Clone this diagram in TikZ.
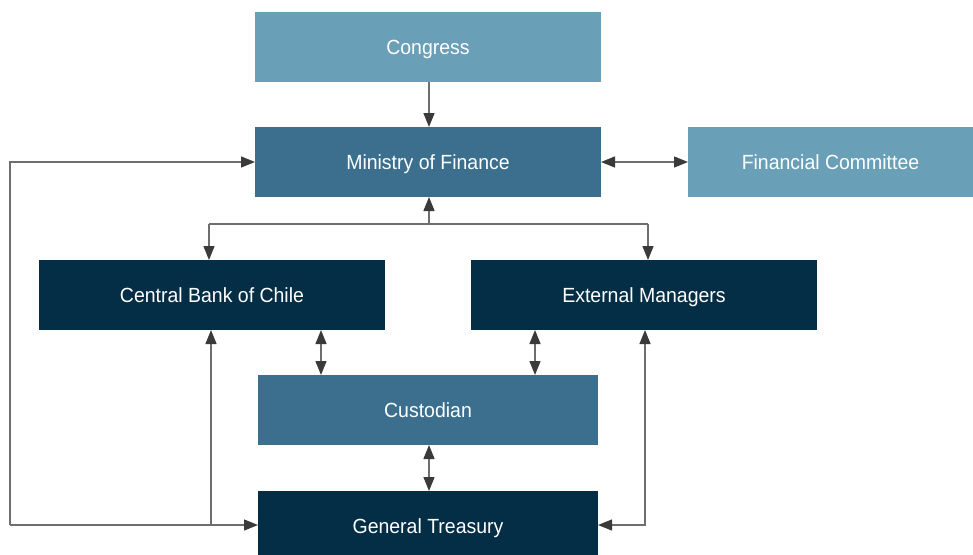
\documentclass[tikz,border=0pt]{standalone}
\usepackage{fontspec}
\setmainfont{Liberation Sans}[FakeStretch=0.95]
\usetikzlibrary{arrows.meta}
\definecolor{boxlight}{HTML}{6A9FB8}
\definecolor{boxmid}{HTML}{3B6F8D}
\definecolor{boxdark}{HTML}{042D46}
\definecolor{linegray}{HTML}{6E6E6E}
\definecolor{tipgray}{HTML}{3A3A3A}
\begin{document}
\begin{tikzpicture}[x=1pt,y=-1pt,
  orgbox/.style={rectangle, inner sep=0pt, outer sep=0pt, text=white,
    text height=14pt, text depth=0pt,
    font=\fontsize{20.5}{24}\selectfont},
  light/.style={orgbox, fill=boxlight},
  mid/.style={orgbox, fill=boxmid},
  dark/.style={orgbox, fill=boxdark},
  tip/.tip={Triangle[length=14pt,width=11pt,color=tipgray]},
  link/.style={draw=linegray, line width=1.3pt, -tip},
  plain/.style={draw=linegray, line width=1.3pt},
  dbl/.style={draw=linegray, line width=1.3pt, tip-tip}
]
\useasboundingbox (0,0) rectangle (973,554);

% boxes
\node[light, minimum width=346pt, minimum height=70pt] (congress) at (428,47) {Congress};
\node[mid, minimum width=346pt, minimum height=70pt] (ministry) at (428,162) {Ministry of Finance};
\node[light, minimum width=285pt, minimum height=70pt] (committee) at (830.5,162) {Financial Committee};
\node[dark, minimum width=346pt, minimum height=70pt] (bank) at (212,295) {Central Bank of Chile};
\node[dark, minimum width=346pt, minimum height=70pt] (managers) at (644,295) {External Managers};
\node[mid, minimum width=340pt, minimum height=70pt] (custodian) at (428,410) {Custodian};
\node[dark, minimum width=340pt, minimum height=70pt] (treasury) at (428,526) {General Treasury};

% junction and routing points
\coordinate (hub) at (429,224);
\coordinate (hubL) at (209,224);
\coordinate (hubR) at (648,224);
\coordinate (bankcus) at (321,352);
\coordinate (mgrcus) at (535,352);
\coordinate (loopBL) at (10,525);
\coordinate (loopTL) at (10,162);
\coordinate (tapL) at (211,525);
\coordinate (loopR) at (645,525);

% connectors
\draw[link] (congress.south -| hub) -- (ministry.north -| hub);
\draw[dbl] (ministry.east) -- (committee.west);
\draw[link] (hub) -- (ministry.south -| hub);
\draw[plain] (hubL) -- (hubR);
\draw[link] (hubL) -- (bank.north -| hubL);
\draw[link] (hubR) -- (managers.north -| hubR);
\draw[dbl] (bank.south -| bankcus) -- (custodian.north -| bankcus);
\draw[dbl] (managers.south -| mgrcus) -- (custodian.north -| mgrcus);
\draw[dbl] (custodian.south -| hub) -- (treasury.north -| hub);
\draw[link] (loopBL) -- (treasury.west |- loopBL);
\draw[link] (loopBL) -- (loopTL) -- (ministry.west |- loopTL);
\draw[link] (tapL) -- (bank.south -| tapL);
\draw[dbl] (treasury.east |- loopR) -- (loopR) -- (managers.south -| loopR);
\end{tikzpicture}
\end{document}
